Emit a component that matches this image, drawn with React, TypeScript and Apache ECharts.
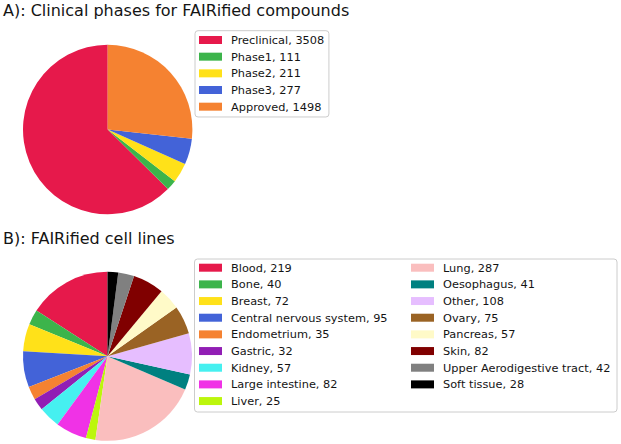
import React, { useEffect, useRef } from "react";
import * as echarts from "echarts";

const phaseCategories = ["Preclinical", "Phase1", "Phase2", "Phase3", "Approved"];
const phaseValues = [3508, 111, 211, 277, 1498];
const phaseColors = ["#e6194b", "#3cb44b", "#ffe119", "#4363d8", "#f58231"];

const cellCategories = [
  "Blood", "Bone", "Breast", "Central nervous system", "Endometrium", "Gastric",
  "Kidney", "Large intestine", "Liver", "Lung", "Oesophagus", "Other", "Ovary",
  "Pancreas", "Skin", "Upper Aerodigestive tract", "Soft tissue",
];
const cellValues = [219, 40, 72, 95, 35, 32, 57, 82, 25, 287, 41, 108, 75, 57, 82, 42, 28];
const cellColors = [
  "#e6194b", "#3cb44b", "#ffe119", "#4363d8", "#f58231", "#911eb4", "#46f0f0",
  "#f032e6", "#bcf60c", "#fabebe", "#008080", "#e6beff", "#9a6324", "#fffac8",
  "#800000", "#808080", "#000000",
];

const titleA = "A): Clinical phases for FAIRified compounds";
const titleB = "B): FAIRified cell lines";

const FONT = "DejaVu Sans";
const TEXT_COLOR = "#141414";

export default function App() {
  const ref = useRef<HTMLDivElement>(null);
  useEffect(() => {
    if (!ref.current) return;
    const chart = echarts.init(ref.current, null, { renderer: "svg" });
    const phaseNames = phaseCategories.map((c, i) => `${c}, ${phaseValues[i]}`);
    const cellNames = cellCategories.map((c, i) => `${c}, ${cellValues[i]}`);
    const legendCommon = {
      orient: "vertical" as const,
      itemWidth: 23,
      itemHeight: 8,
      itemGap: 4.67,
      icon: "rect",
      selectedMode: false,
      textStyle: {
        fontFamily: FONT,
        fontSize: 11.33,
        lineHeight: 12,
        color: TEXT_COLOR,
        padding: [0, 0, 0, 4],
      },
    };
    chart.setOption({
      animation: false,
      backgroundColor: "#ffffff",
      title: [
        {
          text: titleA,
          left: 3,
          top: 2,
          padding: 0,
          textStyle: { fontFamily: FONT, fontSize: 16, fontWeight: "normal", color: TEXT_COLOR, lineHeight: 16 },
        },
        {
          text: titleB,
          left: 3,
          top: 230,
          padding: 0,
          textStyle: { fontFamily: FONT, fontSize: 16, fontWeight: "normal", color: TEXT_COLOR, lineHeight: 16 },
        },
      ],
      legend: [
        {
          ...legendCommon,
          left: 195,
          top: 30.7,
          padding: [3.3, 4.7, 4.3, 4],
          borderColor: "#cccccc",
          borderWidth: 1,
          borderRadius: 3,
          backgroundColor: "#ffffff",
          data: phaseNames,
        },
        {
          ...legendCommon,
          left: 194.5,
          top: 259,
          padding: [2.7, 0, 5, 4.5],
          data: cellNames.slice(0, 9),
        },
        {
          ...legendCommon,
          left: 411,
          top: 261.7,
          padding: 0,
          data: cellNames.slice(9),
        },
      ],
      graphic: [
        {
          type: "rect",
          z: -1,
          shape: { x: 194.5, y: 259, width: 422.5, height: 153, r: 3 },
          style: { fill: "#ffffff", stroke: "#cccccc", lineWidth: 1 },
        },
      ],
      series: [
        {
          type: "pie",
          center: [107.7, 129.5],
          radius: 84.7,
          startAngle: 90,
          clockwise: false,
          label: { show: false },
          labelLine: { show: false },
          emphasis: { disabled: true },
          itemStyle: { borderWidth: 0 },
          data: phaseNames.map((n, i) => ({ name: n, value: phaseValues[i], itemStyle: { color: phaseColors[i] } })),
        },
        {
          type: "pie",
          center: [107.5, 356.3],
          radius: 84.5,
          startAngle: 90,
          clockwise: false,
          label: { show: false },
          labelLine: { show: false },
          emphasis: { disabled: true },
          itemStyle: { borderWidth: 0 },
          data: cellNames.map((n, i) => ({ name: n, value: cellValues[i], itemStyle: { color: cellColors[i] } })),
        },
      ],
    });
    return () => chart.dispose();
  }, []);
  return (
    <div
      ref={ref}
      style={{ position: "absolute", left: 0, top: 0, width: 621, height: 444 }}
    />
  );
}
